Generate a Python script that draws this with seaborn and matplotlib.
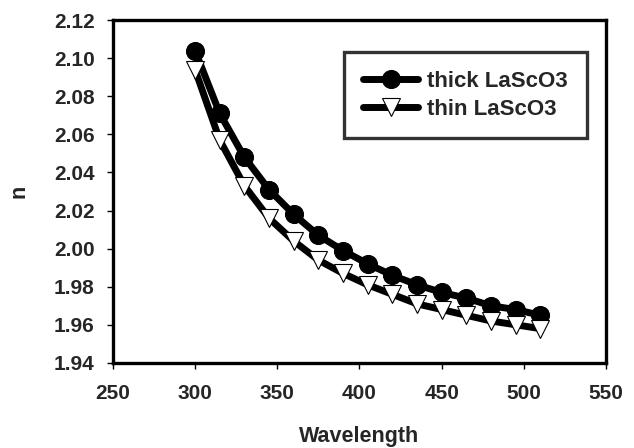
import numpy as np
import pandas as pd
import seaborn as sns
import matplotlib
matplotlib.use("Agg")
import matplotlib.pyplot as plt

# data
wavelength = [300, 315, 330, 345, 360, 375, 390, 405, 420, 435, 450, 465, 480, 495, 510]
n_thick = [2.104, 2.071, 2.048, 2.031, 2.018, 2.007, 1.999, 1.992, 1.986, 1.981,
           1.977, 1.974, 1.970, 1.968, 1.965]
n_thin = [2.094, 2.057, 2.033, 2.016, 2.004, 1.994, 1.987, 1.981, 1.976, 1.971,
          1.968, 1.965, 1.962, 1.960, 1.958]
labels = ["thick LaScO3", "thin LaScO3"]

x_ticks = [250, 300, 350, 400, 450, 500, 550]
y_ticks = [1.94, 1.96, 1.98, 2.00, 2.02, 2.04, 2.06, 2.08, 2.10, 2.12]

sns.set_style("white")
plt.rcParams["font.family"] = ["Liberation Sans", "DejaVu Sans"]
plt.rcParams["font.weight"] = "bold"

df_thick = pd.DataFrame({"Wavelength": wavelength, "n": n_thick})
df_thin = pd.DataFrame({"Wavelength": wavelength, "n": n_thin})

fig = plt.figure(figsize=(6.34, 4.48), dpi=100)
ax = fig.add_axes([0.178, 0.190, 0.778, 0.765])

sns.lineplot(data=df_thick, x="Wavelength", y="n", ax=ax, color="black",
             linewidth=5, marker="o", markersize=13, markerfacecolor="black",
             markeredgecolor="black", label=labels[0])
sns.lineplot(data=df_thin, x="Wavelength", y="n", ax=ax, color="black",
             linewidth=5, marker="v", markersize=12.5, markerfacecolor="white",
             markeredgecolor="black", markeredgewidth=0.8, label=labels[1])

ax.set_xlim(250, 550)
ax.set_ylim(1.94, 2.12)
ax.set_xticks(x_ticks)
ax.set_yticks(y_ticks)
ax.set_yticklabels([f"{v:.2f}" for v in y_ticks])

for s in ax.spines.values():
    s.set_linewidth(2.4)
    s.set_color("black")

ax.tick_params(axis="both", direction="out", length=4, width=1, color="black",
               labelsize=15, left=True, bottom=True)
ax.tick_params(axis="x", pad=11)
ax.tick_params(axis="y", pad=9)

ax.set_xlabel("Wavelength", fontsize=15.5, fontweight="bold", labelpad=17)
ax.set_ylabel("n", fontsize=15.5, fontweight="bold", labelpad=18)

leg = ax.legend(loc="upper right", bbox_to_anchor=(0.961, 0.907),
                borderaxespad=0, frameon=True, fancybox=False,
                prop={"size": 16, "weight": "bold"}, handlelength=2.5,
                borderpad=0.85, labelspacing=0.3, handletextpad=0.4)
leg.get_frame().set_edgecolor("black")
leg.get_frame().set_linewidth(2.4)

fig.savefig("out.png", dpi=100)
